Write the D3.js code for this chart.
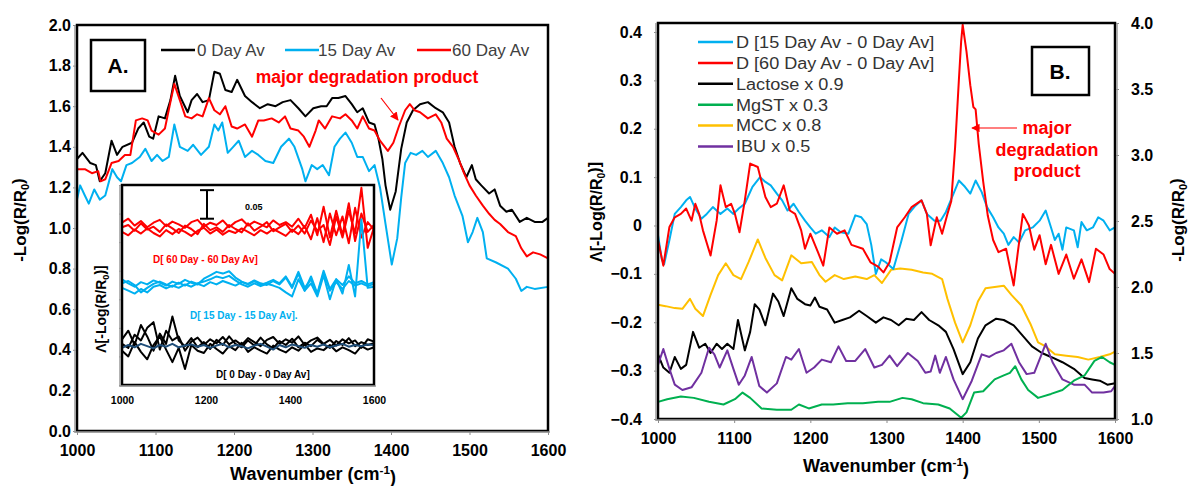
<!DOCTYPE html>
<html>
<head>
<meta charset="utf-8">
<script src="https://cdn.jsdelivr.net/npm/d3@7"></script>
<style>
  body { margin: 0; background: #fff; }
  svg { display: block; font-family: Arial, "Liberation Sans", sans-serif; }
  .tick text { font-weight: bold; font-size: 16px; fill: #000; }
  .tick line { stroke: #8c8c8c; }
</style>
</head>
<body>
<div id="chart"></div>
<script>
//Data
const WAVE_TICKS = [1000, 1100, 1200, 1300, 1400, 1500, 1600];
const INSET_TICKS = [1000, 1200, 1400, 1600];
const A_Y_TICKS = [0, 0.2, 0.4, 0.6, 0.8, 1.0, 1.2, 1.4, 1.6, 1.8, 2.0];
const B_LEFT_TICKS = [-0.4, -0.3, -0.2, -0.1, 0, 0.1, 0.2, 0.3, 0.4];
const B_RIGHT_TICKS = [1.0, 1.5, 2.0, 2.5, 3.0, 3.5, 4.0];

const A_LEGEND = ['0 Day Av', '15 Day Av', '60 Day Av'];
const B_LEGEND = ['D [15 Day Av - 0 Day Av]', 'D [60 Day Av - 0 Day Av]', 'Lactose x 0.9', 'MgST x 0.3', 'MCC x 0.8', 'IBU x 0.5'];

// Panel A: averaged spectra, [wavenumber, -log(R/R0)]
const A_DAY0 = [[1000,1.34],[1007,1.37],[1017,1.32],[1024,1.31],[1029,1.23],[1036,1.27],[1044,1.43],[1051,1.36],[1058,1.40],[1070,1.42],[1078,1.49],[1085,1.52],[1092,1.45],[1097,1.44],[1104,1.55],[1112,1.54],[1119,1.63],[1125,1.75],[1131,1.65],[1141,1.57],[1146,1.63],[1153,1.66],[1160,1.62],[1168,1.63],[1175,1.77],[1182,1.76],[1189,1.68],[1197,1.67],[1204,1.73],[1214,1.65],[1223,1.62],[1233,1.59],[1243,1.61],[1253,1.60],[1262,1.62],[1272,1.63],[1282,1.59],[1291,1.55],[1301,1.59],[1311,1.60],[1318,1.60],[1325,1.64],[1333,1.64],[1342,1.65],[1350,1.61],[1357,1.57],[1364,1.59],[1372,1.52],[1379,1.51],[1384,1.44],[1389,1.34],[1393,1.21],[1399,1.09],[1406,1.18],[1413,1.39],[1420,1.52],[1428,1.58],[1437,1.61],[1447,1.62],[1457,1.59],[1466,1.57],[1474,1.52],[1481,1.40],[1488,1.32],[1496,1.25],[1503,1.31],[1508,1.24],[1515,1.21],[1525,1.17],[1532,1.19],[1539,1.11],[1547,1.08],[1554,1.09],[1564,1.03],[1573,1.05],[1583,1.03],[1593,1.03],[1600,1.05]];
const A_DAY15 = [[1000,1.14],[1004,1.21],[1010,1.16],[1015,1.12],[1022,1.19],[1029,1.14],[1036,1.16],[1045,1.29],[1051,1.25],[1056,1.23],[1063,1.31],[1070,1.32],[1080,1.35],[1087,1.39],[1095,1.33],[1102,1.36],[1109,1.33],[1117,1.35],[1124,1.51],[1131,1.40],[1141,1.38],[1148,1.41],[1158,1.36],[1168,1.40],[1175,1.51],[1180,1.48],[1185,1.52],[1192,1.37],[1199,1.40],[1206,1.43],[1214,1.35],[1223,1.38],[1231,1.36],[1240,1.33],[1250,1.32],[1260,1.40],[1270,1.44],[1277,1.40],[1287,1.29],[1291,1.23],[1299,1.31],[1306,1.29],[1313,1.31],[1321,1.26],[1328,1.40],[1335,1.44],[1342,1.47],[1350,1.42],[1357,1.35],[1364,1.35],[1372,1.28],[1379,1.31],[1386,1.20],[1393,1.02],[1401,0.82],[1408,0.95],[1413,1.15],[1418,1.32],[1425,1.37],[1432,1.36],[1440,1.38],[1447,1.35],[1457,1.38],[1466,1.32],[1474,1.25],[1481,1.16],[1491,1.06],[1498,0.93],[1504,0.98],[1510,1.05],[1517,0.98],[1522,0.85],[1534,0.83],[1549,0.80],[1559,0.75],[1566,0.69],[1573,0.71],[1583,0.70],[1600,0.71]];
const A_DAY60 = [[1000,1.29],[1010,1.29],[1019,1.27],[1027,1.28],[1030,1.23],[1036,1.24],[1044,1.32],[1053,1.33],[1061,1.36],[1068,1.36],[1075,1.53],[1083,1.54],[1090,1.53],[1095,1.48],[1104,1.46],[1112,1.49],[1119,1.62],[1124,1.71],[1131,1.63],[1138,1.55],[1146,1.54],[1153,1.56],[1160,1.55],[1168,1.64],[1175,1.58],[1182,1.56],[1189,1.60],[1197,1.50],[1204,1.49],[1214,1.51],[1223,1.45],[1231,1.53],[1238,1.53],[1248,1.54],[1257,1.52],[1265,1.55],[1272,1.49],[1282,1.48],[1289,1.45],[1296,1.40],[1304,1.48],[1308,1.53],[1316,1.49],[1325,1.55],[1335,1.54],[1342,1.56],[1350,1.53],[1357,1.49],[1364,1.55],[1372,1.49],[1379,1.48],[1386,1.43],[1396,1.38],[1403,1.42],[1410,1.50],[1418,1.58],[1424,1.61],[1430,1.58],[1437,1.57],[1447,1.54],[1457,1.56],[1464,1.52],[1471,1.44],[1479,1.40],[1486,1.34],[1493,1.27],[1500,1.21],[1508,1.16],[1517,1.11],[1525,1.07],[1532,1.04],[1539,1.02],[1549,0.98],[1559,0.96],[1566,0.90],[1573,0.86],[1581,0.88],[1590,0.87],[1600,0.85]];

// Panel A inset: individual-minus-average spectra (offset units, 0.05 bar)
const INSET_X = [1000,1015,1030,1045,1060,1075,1090,1105,1120,1135,1150,1165,1180,1195,1210,1225,1240,1255,1270,1285,1300,1315,1330,1345,1360,1375,1390,1405,1420,1435,1450,1465,1480,1495,1510,1525,1540,1555,1570,1585,1600];
const INSET_RED_1 = [0.284,0.291,0.279,0.287,0.276,0.284,0.289,0.278,0.286,0.281,0.275,0.285,0.289,0.277,0.284,0.280,0.288,0.276,0.285,0.290,0.279,0.286,0.281,0.276,0.288,0.280,0.285,0.277,0.291,0.275,0.298,0.262,0.312,0.258,0.305,0.262,0.318,0.252,0.300,0.268,0.280];
const INSET_RED_2 = [0.268,0.262,0.272,0.265,0.274,0.266,0.260,0.271,0.264,0.273,0.268,0.261,0.270,0.275,0.265,0.272,0.263,0.270,0.266,0.274,0.268,0.262,0.271,0.265,0.273,0.267,0.261,0.272,0.264,0.278,0.255,0.292,0.250,0.300,0.262,0.295,0.248,0.310,0.258,0.285,0.272];
const INSET_RED_3 = [0.276,0.280,0.270,0.283,0.272,0.277,0.268,0.281,0.274,0.266,0.279,0.273,0.264,0.282,0.271,0.276,0.268,0.280,0.273,0.267,0.283,0.270,0.277,0.285,0.269,0.276,0.282,0.268,0.279,0.265,0.288,0.270,0.280,0.245,0.295,0.258,0.305,0.265,0.345,0.240,0.276];
const INSET_BLUE_1 = [0.185,0.178,0.172,0.180,0.176,0.183,0.179,0.174,0.181,0.177,0.184,0.179,0.176,0.186,0.192,0.198,0.195,0.199,0.188,0.181,0.177,0.183,0.178,0.175,0.182,0.176,0.188,0.170,0.195,0.165,0.190,0.160,0.200,0.168,0.185,0.175,0.190,0.178,0.182,0.176,0.180];
const INSET_BLUE_2 = [0.170,0.165,0.160,0.168,0.162,0.172,0.175,0.169,0.174,0.170,0.176,0.172,0.178,0.181,0.185,0.190,0.187,0.191,0.183,0.176,0.172,0.178,0.173,0.177,0.174,0.170,0.162,0.155,0.185,0.165,0.178,0.155,0.192,0.150,0.185,0.160,0.210,0.155,0.290,0.170,0.172];
const INSET_BLUE_3 = [0.178,0.182,0.175,0.162,0.170,0.177,0.181,0.176,0.172,0.179,0.174,0.181,0.177,0.173,0.180,0.176,0.182,0.178,0.174,0.180,0.176,0.182,0.175,0.179,0.184,0.178,0.190,0.172,0.198,0.170,0.185,0.158,0.196,0.165,0.180,0.168,0.182,0.174,0.178,0.173,0.177];
const INSET_BLACK_1 = [0.080,0.095,0.070,0.105,0.085,0.060,0.090,0.072,0.120,0.078,0.068,0.082,0.066,0.075,0.063,0.079,0.070,0.085,0.072,0.066,0.078,0.069,0.083,0.071,0.064,0.077,0.070,0.081,0.066,0.074,0.068,0.079,0.071,0.065,0.077,0.070,0.082,0.068,0.075,0.070,0.073];
const INSET_BLACK_2 = [0.060,0.050,0.075,0.058,0.045,0.070,0.085,0.062,0.040,0.065,0.028,0.070,0.060,0.056,0.072,0.063,0.055,0.068,0.061,0.074,0.058,0.066,0.060,0.055,0.069,0.062,0.057,0.066,0.060,0.071,0.058,0.064,0.061,0.070,0.059,0.066,0.061,0.055,0.068,0.062,0.066];
const INSET_BLACK_3 = [0.072,0.065,0.088,0.078,0.100,0.110,0.062,0.095,0.078,0.085,0.060,0.076,0.083,0.070,0.080,0.073,0.084,0.071,0.078,0.070,0.082,0.075,0.068,0.079,0.084,0.072,0.080,0.074,0.085,0.070,0.078,0.083,0.072,0.079,0.069,0.080,0.073,0.078,0.065,0.080,0.076];
const INSET_NAVY = [0.065,0.070,0.066,0.072,0.068,0.064,0.070,0.067,0.072,0.066,0.069,0.071,0.067,0.070,0.065,0.069,0.072,0.066,0.070,0.068,0.064,0.069,0.072,0.067,0.062,0.070,0.066,0.071,0.068,0.065,0.070,0.067,0.071,0.066,0.069,0.072,0.067,0.070,0.068,0.071,0.070];
const SCALE_BAR = [0.291, 0.341];

// Panel B: difference spectra (left axis)
const B_D15 = [[1000,-0.02],[1005,-0.07],[1008,-0.08],[1015,-0.03],[1022,0.024],[1030,0.038],[1037,0.052],[1042,0.059],[1049,0.035],[1057,0.014],[1064,0.024],[1072,0.038],[1082,0.024],[1091,0.035],[1099,0.024],[1106,0.035],[1114,0.045],[1124,0.08],[1134,0.10],[1141,0.09],[1148,0.083],[1156,0.066],[1163,0.052],[1170,0.031],[1178,0.045],[1185,0.028],[1193,0.01],[1200,-0.004],[1207,-0.017],[1215,-0.01],[1225,-0.024],[1232,-0.004],[1240,-0.014],[1250,-0.017],[1259,0.021],[1267,0.017],[1274,0.003],[1280,-0.04],[1286,-0.10],[1293,-0.07],[1299,-0.076],[1309,-0.09],[1319,-0.035],[1329,0.024],[1338,0.041],[1346,0.052],[1353,0.024],[1363,0.01],[1371,0.01],[1378,0.028],[1388,0.066],[1395,0.093],[1403,0.08],[1410,0.066],[1417,0.093],[1425,0.069],[1432,0.038],[1440,0.017],[1447,-0.004],[1454,-0.017],[1460,-0.04],[1467,-0.024],[1474,-0.035],[1482,-0.01],[1492,-0.004],[1501,0.01],[1509,0.031],[1516,-0.004],[1521,-0.03],[1526,-0.017],[1531,-0.05],[1536,-0.004],[1546,-0.01],[1551,-0.045],[1556,0.007],[1563,-0.01],[1571,-0.004],[1578,0.017],[1585,0.01],[1593,-0.01],[1600,-0.004]];
const B_D60 = [[1000,-0.03],[1007,-0.083],[1015,-0.003],[1022,0.017],[1030,0.024],[1037,0.035],[1044,0.01],[1049,0.045],[1054,0.024],[1059,-0.01],[1069,-0.062],[1077,0.01],[1082,0.083],[1089,0.038],[1096,0.045],[1101,0.024],[1107,-0.014],[1114,0.052],[1121,0.128],[1131,0.121],[1141,0.059],[1148,0.038],[1156,0.045],[1165,0.083],[1173,0.031],[1180,0.024],[1188,-0.01],[1193,-0.048],[1200,-0.017],[1210,-0.055],[1217,-0.083],[1225,-0.004],[1235,-0.017],[1245,-0.01],[1254,-0.04],[1269,-0.048],[1279,-0.076],[1289,-0.085],[1296,-0.097],[1304,-0.076],[1314,-0.004],[1324,0.017],[1333,0.038],[1346,0.052],[1353,0.024],[1358,-0.041],[1366,0.017],[1373,-0.017],[1380,0.024],[1385,0.05],[1390,0.16],[1395,0.30],[1398,0.38],[1400,0.415],[1405,0.36],[1410,0.29],[1414,0.245],[1417,0.24],[1421,0.17],[1427,0.09],[1433,0.02],[1440,-0.03],[1447,-0.055],[1457,-0.048],[1467,-0.124],[1472,-0.06],[1479,0.024],[1487,0.0],[1494,-0.05],[1501,-0.02],[1509,-0.08],[1516,-0.04],[1526,-0.10],[1536,-0.06],[1546,-0.11],[1556,-0.07],[1566,-0.117],[1575,-0.048],[1585,-0.06],[1593,-0.09],[1600,-0.10]];

// Panel B: scaled reference spectra (right axis, -log(R/R0))
const B_LACTOSE = [[1000,1.49],[1007,1.39],[1015,1.35],[1022,1.47],[1030,1.38],[1037,1.41],[1046,1.66],[1054,1.54],[1062,1.57],[1069,1.50],[1077,1.57],[1084,1.53],[1091,1.57],[1099,1.53],[1105,1.75],[1114,1.52],[1121,1.66],[1127,1.87],[1133,1.83],[1141,1.71],[1151,1.95],[1158,1.89],[1165,1.78],[1175,1.99],[1183,1.91],[1193,1.87],[1200,1.86],[1206,1.92],[1212,1.85],[1222,1.83],[1232,1.73],[1242,1.75],[1252,1.77],[1264,1.82],[1274,1.78],[1286,1.73],[1296,1.77],[1306,1.75],[1316,1.71],[1326,1.76],[1336,1.75],[1346,1.81],[1356,1.75],[1368,1.71],[1378,1.66],[1388,1.53],[1400,1.34],[1410,1.43],[1420,1.61],[1430,1.71],[1444,1.76],[1454,1.75],[1467,1.71],[1479,1.63],[1491,1.55],[1504,1.50],[1516,1.47],[1531,1.43],[1546,1.38],[1560,1.31],[1570,1.30],[1580,1.29],[1590,1.26],[1600,1.27]];
const B_MGST = [[1000,1.13],[1012,1.15],[1030,1.17],[1047,1.16],[1067,1.13],[1086,1.11],[1101,1.15],[1111,1.20],[1121,1.16],[1136,1.08],[1156,1.07],[1175,1.07],[1185,1.11],[1198,1.08],[1215,1.11],[1230,1.11],[1249,1.12],[1269,1.12],[1289,1.13],[1304,1.13],[1321,1.16],[1333,1.15],[1348,1.12],[1368,1.11],[1383,1.08],[1398,1.01],[1405,1.05],[1415,1.20],[1427,1.21],[1442,1.30],[1454,1.33],[1462,1.35],[1469,1.40],[1477,1.30],[1486,1.22],[1499,1.16],[1516,1.19],[1531,1.22],[1546,1.29],[1560,1.33],[1573,1.44],[1583,1.47],[1593,1.43],[1600,1.41]];
const B_MCC = [[1000,1.865],[1010,1.855],[1022,1.84],[1032,1.835],[1042,1.91],[1049,1.835],[1059,1.78],[1069,1.94],[1079,2.09],[1089,2.18],[1099,2.09],[1109,2.06],[1119,2.19],[1131,2.36],[1141,2.22],[1153,2.09],[1163,2.05],[1175,2.24],[1188,2.18],[1202,2.19],[1212,2.09],[1220,2.04],[1232,2.09],[1244,2.06],[1259,2.08],[1274,2.06],[1284,2.09],[1294,2.03],[1306,2.13],[1318,2.14],[1333,2.13],[1348,2.11],[1360,2.10],[1373,2.06],[1380,1.91],[1390,1.73],[1400,1.58],[1410,1.71],[1420,1.89],[1430,1.99],[1442,2.00],[1454,2.01],[1464,1.94],[1477,1.86],[1489,1.72],[1499,1.58],[1509,1.55],[1521,1.49],[1536,1.48],[1551,1.47],[1565,1.45],[1580,1.47],[1593,1.49],[1600,1.51]];
const B_IBU = [[1000,1.41],[1007,1.53],[1015,1.38],[1022,1.26],[1032,1.22],[1044,1.24],[1057,1.35],[1067,1.54],[1074,1.49],[1081,1.39],[1091,1.52],[1099,1.38],[1106,1.26],[1114,1.33],[1123,1.47],[1133,1.25],[1143,1.20],[1156,1.27],[1168,1.47],[1175,1.45],[1185,1.53],[1195,1.35],[1205,1.39],[1215,1.45],[1227,1.43],[1237,1.55],[1247,1.44],[1259,1.44],[1272,1.53],[1284,1.39],[1294,1.41],[1304,1.48],[1314,1.40],[1328,1.50],[1341,1.44],[1351,1.35],[1358,1.36],[1364,1.48],[1370,1.35],[1378,1.47],[1388,1.30],[1400,1.15],[1412,1.29],[1425,1.49],[1435,1.47],[1444,1.50],[1454,1.52],[1464,1.57],[1474,1.43],[1484,1.34],[1494,1.35],[1509,1.57],[1518,1.43],[1531,1.30],[1546,1.26],[1560,1.26],[1570,1.20],[1585,1.20],[1595,1.21],[1600,1.25]];

//Colours
const BLUE = '#00B0F0', RED = '#FF0000', BLACK = '#000000', GREEN = '#00B050', ORANGE = '#FFC000', PURPLE = '#7030A0', NAVY = '#1F4E79';

const svg = d3.select('#chart').append('svg').attr('width', 1189).attr('height', 486);

svg.append('defs').append('marker')
  .attr('id', 'arrow').attr('viewBox', '0 0 10 10').attr('refX', 9).attr('refY', 5)
  .attr('markerWidth', 7).attr('markerHeight', 7).attr('orient', 'auto-start-reverse')
  .append('path').attr('d', 'M0,0 L10,5 L0,10 z').attr('fill', RED);

const frame = (l, t, r, b, greyLeft, greyRight) => {
  svg.append('rect').attr('x', l).attr('y', t).attr('width', r - l).attr('height', b - t)
    .attr('fill', 'none').attr('stroke', '#000').attr('stroke-width', 2.5);
  svg.append('line').attr('x1', l - 2).attr('x2', r + 2).attr('y1', b + 1).attr('y2', b + 1)
    .attr('stroke', '#9a9a9a').attr('stroke-width', 1.5);
  if (greyLeft) svg.append('line').attr('x1', l - 2).attr('x2', l - 2).attr('y1', t).attr('y2', b + 2)
    .attr('stroke', '#9a9a9a').attr('stroke-width', 1.5);
  if (greyRight) svg.append('line').attr('x1', r + 2).attr('x2', r + 2).attr('y1', t).attr('y2', b + 2)
    .attr('stroke', '#9a9a9a').attr('stroke-width', 1.5);
};

const styleAxis = g => { g.select('.domain').remove(); };

const drawLine = (g, data, x, y, colour, width) =>
  g.append('path').datum(data).attr('fill', 'none').attr('stroke', colour)
    .attr('stroke-width', width).attr('stroke-linejoin', 'round')
    .attr('d', d3.line().x(d => x(d[0])).y(d => y(d[1])));

const subTitle = (sel, pre, sub, post) => {
  sel.append('tspan').text(pre);
  sel.append('tspan').attr('font-size', '0.65em').attr('dy', '0.3em').text(sub);
  sel.append('tspan').attr('dy', '-0.3em').text(post);
};

const waveTitle = t => {
  t.append('tspan').text('Wavenumber (cm');
  t.append('tspan').attr('font-size', '0.65em').attr('dy', '-0.55em').text('-1');
  t.append('tspan').attr('dy', '0.55em').text(')');
};

//Panel A
const xA = d3.scaleLinear().domain([1000, 1600]).range([77, 548]);
const yA = d3.scaleLinear().domain([0, 2]).range([431, 25]);

svg.append('g').attr('transform', 'translate(0,431)')
  .call(d3.axisBottom(xA).tickValues(WAVE_TICKS).tickFormat(d3.format('d')).tickSize(4).tickPadding(10))
  .call(styleAxis);
svg.append('g').attr('transform', 'translate(77,0)')
  .call(d3.axisLeft(yA).tickValues(A_Y_TICKS).tickFormat(d3.format('.1f')).tickSize(4).tickPadding(2))
  .call(styleAxis);

const gA = svg.append('g');
drawLine(gA, A_DAY0, xA, yA, BLACK, 2);
drawLine(gA, A_DAY15, xA, yA, BLUE, 2);
drawLine(gA, A_DAY60, xA, yA, RED, 2);
frame(77, 25, 548, 431, true, false);

svg.append('text').attr('x', 313).attr('y', 480).attr('text-anchor', 'middle')
  .attr('font-size', 18).attr('font-weight', 'bold').call(waveTitle);
svg.append('text').attr('transform', 'translate(26,220) rotate(-90)').attr('text-anchor', 'middle')
  .attr('font-size', 17).attr('font-weight', 'bold')
  .call(t => subTitle(t, '-Log(R/R', '0', ')'));

// A. label box
svg.append('rect').attr('x', 91).attr('y', 40).attr('width', 54).attr('height', 51)
  .attr('fill', '#fff').attr('stroke', '#000').attr('stroke-width', 2.5);
svg.append('text').attr('x', 118).attr('y', 73).attr('text-anchor', 'middle')
  .attr('font-size', 21).attr('font-weight', 'bold').text('A.');

// legend A
const legA = [[161, 197, BLACK], [285, 318, BLUE], [417, 452, RED]];
A_LEGEND.forEach((name, i) => {
  const [lx, tx, c] = legA[i];
  svg.append('line').attr('x1', lx).attr('x2', lx + 34).attr('y1', 50).attr('y2', 50)
    .attr('stroke', c).attr('stroke-width', 2.5);
  svg.append('text').attr('x', tx).attr('y', 56).attr('font-size', 17).attr('fill', '#404040').text(name);
});

svg.append('text').attr('x', 367).attr('y', 83).attr('text-anchor', 'middle')
  .attr('font-size', 17.5).attr('font-weight', 'bold').attr('fill', RED).text('major degradation product');
svg.append('line').attr('x1', 381).attr('y1', 98).attr('x2', 398).attr('y2', 120)
  .attr('stroke', RED).attr('stroke-width', 1.2).attr('marker-end', 'url(#arrow)');

//Inset
const xI = d3.scaleLinear().domain([1000, 1600]).range([122, 374]);
const yI = d3.scaleLinear().domain([0, 0.35]).range([385, 185]);
svg.append('rect').attr('x', 122).attr('y', 185).attr('width', 252).attr('height', 200).attr('fill', '#fff');
svg.append('g').attr('transform', 'translate(0,385)')
  .call(d3.axisBottom(xI).tickValues(INSET_TICKS).tickFormat(d3.format('d')).tickSize(0).tickPadding(12))
  .call(styleAxis)
  .call(g => g.selectAll('text').style('font-size', '10.5px'));
svg.append('g').attr('transform', 'translate(122,0)')
  .call(d3.axisLeft(yI).ticks(7).tickFormat('').tickSize(3))
  .call(styleAxis);

const gI = svg.append('g');
const traces = [
  [INSET_BLACK_1, BLACK], [INSET_BLACK_2, BLACK], [INSET_BLACK_3, BLACK], [INSET_NAVY, NAVY],
  [INSET_BLUE_1, BLUE], [INSET_BLUE_3, BLUE],
  [INSET_RED_1, RED], [INSET_RED_2, RED], [INSET_RED_3, RED], [INSET_BLUE_2, BLUE]
];
traces.forEach(([vals, c]) => drawLine(gI, INSET_X.map((x, i) => [x, vals[i]]), xI, yI, c, 2));
frame(122, 185, 374, 385, true, false);

// scale bar
const barX = 207;
svg.append('line').attr('x1', barX).attr('x2', barX).attr('y1', yI(SCALE_BAR[0])).attr('y2', yI(SCALE_BAR[1]))
  .attr('stroke', '#000').attr('stroke-width', 2);
SCALE_BAR.forEach(v => svg.append('line').attr('x1', barX - 7).attr('x2', barX + 7)
  .attr('y1', yI(v)).attr('y2', yI(v)).attr('stroke', '#000').attr('stroke-width', 2));
svg.append('text').attr('x', 245).attr('y', 210).attr('font-size', 9).attr('font-weight', 'bold').text('0.05');

const insetLabels = [['D[ 60 Day - 60 Day Av]', 153, 263, RED], ['D[ 15 Day - 15 Day Av].', 190, 319, BLUE], ['D[ 0 Day - 0 Day Av]', 216, 378, BLACK]];
insetLabels.forEach(([t, x, y, c]) => svg.append('text').attr('x', x).attr('y', y)
  .attr('font-size', 10).attr('font-weight', 'bold').attr('fill', c).text(t));
svg.append('text').attr('transform', 'translate(106,309) rotate(-90)').attr('text-anchor', 'middle')
  .attr('font-size', 14).attr('font-weight', 'bold')
  .call(t => subTitle(t, 'Λ[-Log(R/R', '0', ')]'));

//Panel B
const xB = d3.scaleLinear().domain([1000, 1600]).range([658, 1115]);
const yBL = d3.scaleLinear().domain([-0.4, 0.4186]).range([419, 23]);
const yBR = d3.scaleLinear().domain([1, 4]).range([419, 23]);

svg.append('g').attr('transform', 'translate(0,419)')
  .call(d3.axisBottom(xB).tickValues(WAVE_TICKS).tickFormat(d3.format('d')).tickSize(4).tickPadding(10))
  .call(styleAxis);
svg.append('g').attr('transform', 'translate(658,0)')
  .call(d3.axisLeft(yBL).tickValues(B_LEFT_TICKS).tickFormat(d => d === 0 ? '0' : d3.format('.1f')(d)).tickSize(4).tickPadding(12))
  .call(styleAxis);
svg.append('g').attr('transform', 'translate(1115,0)')
  .call(d3.axisRight(yBR).tickValues(B_RIGHT_TICKS).tickFormat(d3.format('.1f')).tickSize(4).tickPadding(12))
  .call(styleAxis);

const gB = svg.append('g');
drawLine(gB, B_MCC, xB, yBR, ORANGE, 2);
drawLine(gB, B_LACTOSE, xB, yBR, BLACK, 2);
drawLine(gB, B_IBU, xB, yBR, PURPLE, 2);
drawLine(gB, B_MGST, xB, yBR, GREEN, 2);
drawLine(gB, B_D15, xB, yBL, BLUE, 2);
drawLine(gB, B_D60, xB, yBL, RED, 2);
frame(658, 23, 1115, 419, true, true);

svg.append('text').attr('x', 886).attr('y', 472).attr('text-anchor', 'middle')
  .attr('font-size', 18).attr('font-weight', 'bold').call(waveTitle);
svg.append('text').attr('transform', 'translate(602,212) rotate(-90)').attr('text-anchor', 'middle')
  .attr('font-size', 16).attr('font-weight', 'bold')
  .call(t => subTitle(t, 'Λ[-Log(R/R', '0', ')]'));
svg.append('text').attr('transform', 'translate(1184,220) rotate(-90)').attr('text-anchor', 'middle')
  .attr('font-size', 17).attr('font-weight', 'bold')
  .call(t => subTitle(t, '-Log(R/R', '0', ')'));

// legend B
const legBColours = [BLUE, RED, BLACK, GREEN, ORANGE, PURPLE];
B_LEGEND.forEach((name, i) => {
  const y = 42 + i * 20.9;
  svg.append('line').attr('x1', 698).attr('x2', 733).attr('y1', y).attr('y2', y)
    .attr('stroke', legBColours[i]).attr('stroke-width', 2.5);
  svg.append('text').attr('transform', `translate(736,${y + 5.8}) scale(1.13,1)`)
    .attr('font-size', 16).attr('fill', '#333').text(name);
});

// B. label box
svg.append('rect').attr('x', 1032).attr('y', 47).attr('width', 57).attr('height', 48)
  .attr('fill', '#fff').attr('stroke', '#000').attr('stroke-width', 2.5);
svg.append('text').attr('x', 1060).attr('y', 79).attr('text-anchor', 'middle')
  .attr('font-size', 21).attr('font-weight', 'bold').text('B.');

['major', 'degradation', 'product'].forEach((t, i) =>
  svg.append('text').attr('x', 1047).attr('y', 134 + i * 21.5).attr('text-anchor', 'middle')
    .attr('font-size', 18).attr('font-weight', 'bold').attr('fill', RED).text(t));
svg.append('line').attr('x1', 1017).attr('y1', 128).attr('x2', 972).attr('y2', 128)
  .attr('stroke', RED).attr('stroke-width', 1.2).attr('marker-end', 'url(#arrow)');
</script>
</body>
</html>
